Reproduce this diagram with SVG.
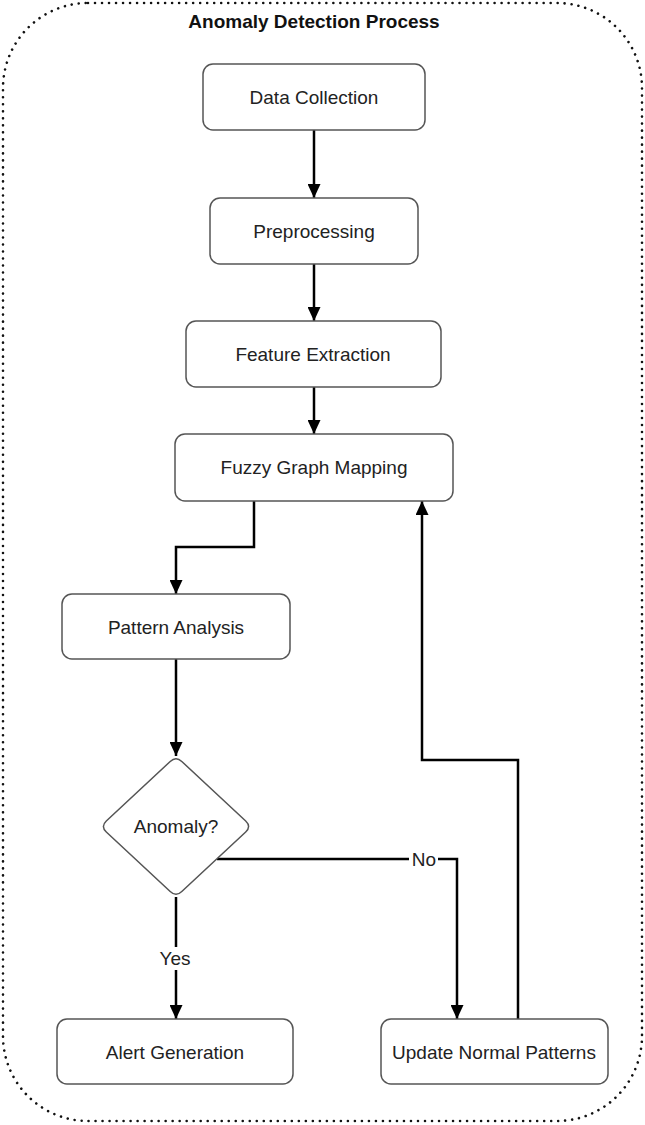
<svg xmlns="http://www.w3.org/2000/svg" width="645" height="1125" viewBox="0 0 645 1125">
  <style>
    .box { fill: #ffffff; stroke: #555555; stroke-width: 1.5; }
    .lbl { font-family: "Liberation Sans", Arial, sans-serif; font-size: 19px; fill: #222222; text-anchor: middle; }
    .title { font-family: "Liberation Sans", Arial, sans-serif; font-size: 19px; font-weight: bold; fill: #111111; text-anchor: middle; }
    .edge { fill: none; stroke: #000000; stroke-width: 2.5; }
    .cont { fill: none; stroke: #111111; stroke-width: 2.6; stroke-linecap: round; stroke-dasharray: 0.01 7; }
  </style>
  <defs>
    <marker id="arr" viewBox="0 0 14 13" refX="14" refY="6.5" markerWidth="14" markerHeight="13" markerUnits="userSpaceOnUse" orient="auto">
      <path d="M0,0 L14,6.5 L0,13 Z" fill="#000000"/>
    </marker>
  </defs>

  <rect id="background" x="0" y="0" width="645" height="1125" fill="#ffffff"/>

  <g id="container">
    <rect class="cont" x="3" y="3" width="639" height="1118" rx="85" ry="85"/>
    <text class="title" x="314" y="28">Anomaly Detection Process</text>
  </g>

  <g id="connectors">
    <line class="edge" x1="314" y1="130" x2="314" y2="198" marker-end="url(#arr)"/>
    <line class="edge" x1="314" y1="264" x2="314" y2="321" marker-end="url(#arr)"/>
    <line class="edge" x1="314" y1="387" x2="314" y2="434" marker-end="url(#arr)"/>
    <polyline class="edge" points="254,500 254,547 176,547 176,594" marker-end="url(#arr)"/>
    <line class="edge" x1="176" y1="659" x2="176" y2="756" marker-end="url(#arr)"/>
    <polyline class="edge" points="217,859 457,859 457,1019" marker-end="url(#arr)"/>
    <line class="edge" x1="176" y1="897" x2="176" y2="1019" marker-end="url(#arr)"/>
    <polyline class="edge" points="518,1019 518,760 422,760 422,501" marker-end="url(#arr)"/>
    <g id="label-no">
      <rect x="409" y="848" width="29" height="22" fill="#ffffff"/>
      <text class="lbl" x="424" y="866">No</text>
    </g>
    <g id="label-yes">
      <rect x="156" y="947" width="38" height="23" fill="#ffffff"/>
      <text class="lbl" x="175" y="965">Yes</text>
    </g>
  </g>

  <g id="data-collection">
    <rect class="box" x="203" y="64" width="222" height="66" rx="10"/>
    <text class="lbl" x="314" y="104">Data Collection</text>
  </g>
  <g id="preprocessing">
    <rect class="box" x="210" y="198" width="208" height="66" rx="10"/>
    <text class="lbl" x="314" y="238">Preprocessing</text>
  </g>
  <g id="feature-extraction">
    <rect class="box" x="186" y="321" width="255" height="66" rx="10"/>
    <text class="lbl" x="313" y="361">Feature Extraction</text>
  </g>
  <g id="fuzzy-graph-mapping">
    <rect class="box" x="175" y="434" width="278" height="67" rx="10"/>
    <text class="lbl" x="314" y="474">Fuzzy Graph Mapping</text>
  </g>
  <g id="pattern-analysis">
    <rect class="box" x="62" y="594" width="228" height="65" rx="10"/>
    <text class="lbl" x="176" y="634">Pattern Analysis</text>
  </g>
  <g id="anomaly-decision">
    <path class="box" d="M181.8,761.5 L245.7,821.0 Q251.5,826.5 245.7,832.0 L181.8,891.5 Q176,897 170.2,891.5 L106.3,832.0 Q100.5,826.5 106.3,821.0 L170.2,761.5 Q176,756 181.8,761.5 Z"/>
    <text class="lbl" x="176" y="833">Anomaly?</text>
  </g>
  <g id="alert-generation">
    <rect class="box" x="57" y="1019" width="236" height="65" rx="10"/>
    <text class="lbl" x="175" y="1059">Alert Generation</text>
  </g>
  <g id="update-normal-patterns">
    <rect class="box" x="381" y="1019" width="227" height="65" rx="10"/>
    <text class="lbl" x="494" y="1059">Update Normal Patterns</text>
  </g>
</svg>
